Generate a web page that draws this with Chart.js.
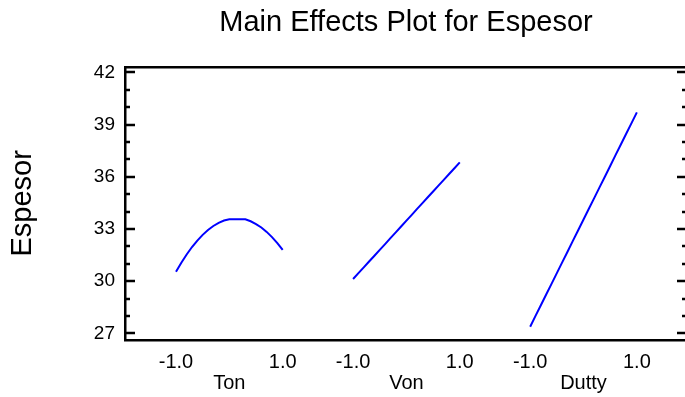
<!DOCTYPE html>
<html><head><meta charset="utf-8">
<script src="https://cdn.jsdelivr.net/npm/chart.js@4.4.1/dist/chart.umd.min.js"></script>
<style>html,body{margin:0;padding:0;overflow:hidden;background:#fff}#wrap{width:687px;height:397px}</style>
</head><body><div id="wrap"><canvas id="c" width="687" height="397"></canvas></div>
<script>
// ---- data ----
const factors = ['Ton', 'Von', 'Dutty'];
const levels = [-1.0, -0.9, -0.8, -0.7, -0.6, -0.5, -0.4, -0.3, -0.2, -0.1, 0.0, 0.1, 0.2, 0.3, 0.4, 0.5, 0.6, 0.7, 0.8, 0.9, 1.0];
const ton   = [30.54, 31.06, 31.53, 31.96, 32.33, 32.66, 32.94, 33.17, 33.35, 33.48, 33.55, 33.55, 33.55, 33.55, 33.44, 33.28, 33.08, 32.83, 32.53, 32.19, 31.79];
const von   = [30.12, 30.46, 30.79, 31.13, 31.46, 31.80, 32.13, 32.47, 32.80, 33.14, 33.48, 33.81, 34.15, 34.48, 34.82, 35.15, 35.49, 35.82, 36.16, 36.49, 36.83];
const dutty = [27.38, 28.00, 28.61, 29.23, 29.84, 30.46, 31.08, 31.69, 32.31, 32.92, 33.54, 34.16, 34.77, 35.39, 36.00, 36.62, 37.24, 37.85, 38.47, 39.08, 39.70];
const yTickValues = [27, 30, 33, 36, 39, 42];
const levelTickValues = [-1, 1];
const levelTickLabels = ['-1.0', '1.0'];

// ---- layout constants ----
const GAP = 3.32;          // horizontal distance between factor panels (x units)
const X_MIN = -0.956, X_MAX = 9.58;
const Y_MIN = 26.615, Y_MAX = 42.32;
const MINOR_STEP = 1;
const FONT = "'Liberation Sans', Arial, sans-serif";

const series = [ton, von, dutty];
const datasets = series.map((vals, k) => ({
  label: factors[k],
  data: levels.map((l, i) => ({ x: k * GAP + l + 1, y: vals[i] })),
  borderColor: '#0000ff',
  borderWidth: 2,
  pointRadius: 0,
  tension: 0,
  fill: false
}));

const levelPositions = [];
const levelLabels = [];
factors.forEach((f, k) => levelTickValues.forEach((l, j) => {
  levelPositions.push(k * GAP + l + 1);
  levelLabels.push(levelTickLabels[j]);
}));
const namePositions = factors.map((f, k) => k * GAP + 1);

const inwardTicks = {
  id: 'inwardTicks',
  afterDatasetsDraw(chart) {
    const { ctx, chartArea: a } = chart;
    const y = chart.scales.y;
    ctx.save();
    ctx.strokeStyle = '#000';
    ctx.lineWidth = 2.5;
    for (let v = Math.ceil(y.min); v <= Math.floor(y.max); v += MINOR_STEP) {
      const p = Math.round(y.getPixelForValue(v));
      const len = yTickValues.includes(v) ? 10 : 5;
      ctx.beginPath();
      ctx.moveTo(a.left, p); ctx.lineTo(a.left + len, p);
      ctx.moveTo(a.right - len, p); ctx.lineTo(a.right, p);
      ctx.stroke();
    }
    ctx.restore();
  }
};

const noGrid = { display: true, drawOnChartArea: false, drawTicks: false };
const blackBorder = { display: true, color: '#000', width: 2.5 };

new Chart(document.getElementById('c'), {
  type: 'line',
  data: { datasets },
  plugins: [inwardTicks],
  options: {
    responsive: false,
    animation: false,
    devicePixelRatio: 1,
    layout: { padding: 0 },
    plugins: {
      legend: { display: false },
      tooltip: { enabled: false },
      title: {
        display: true,
        text: 'Main Effects Plot for Espesor',
        fullSize: false,
        color: '#000',
        font: { family: FONT, size: 29, weight: 'normal' },
        padding: { top: 6, bottom: 26 }
      }
    },
    scales: {
      x: {
        type: 'linear', position: 'bottom', weight: 0,
        min: X_MIN, max: X_MAX,
        grid: noGrid, border: blackBorder,
        afterBuildTicks: s => { s.ticks = levelPositions.map(v => ({ value: v })); },
        afterFit: s => { s.height = 30; },
        ticks: {
          autoSkip: false, maxRotation: 0, padding: 10, color: '#000',
          font: { family: FONT, size: 20 },
          callback: (v, i) => levelLabels[i]
        }
      },
      xName: {
        type: 'linear', position: 'bottom', weight: 1,
        min: X_MIN, max: X_MAX,
        grid: { display: false, drawTicks: false }, border: { display: false },
        afterBuildTicks: s => { s.ticks = namePositions.map(v => ({ value: v })); },
        afterFit: s => { s.height = 27; },
        ticks: {
          autoSkip: false, maxRotation: 0, padding: 1.3, color: '#000',
          font: { family: FONT, size: 20 },
          callback: (v, i) => factors[i]
        }
      },
      xTop: {
        type: 'linear', position: 'top',
        min: X_MIN, max: X_MAX,
        grid: noGrid, border: blackBorder,
        ticks: { display: false },
        afterFit: s => { s.height = 0; }
      },
      y: {
        type: 'linear', position: 'left',
        min: Y_MIN, max: Y_MAX,
        grid: noGrid, border: blackBorder,
        afterBuildTicks: s => { s.ticks = yTickValues.map(v => ({ value: v })); },
        afterFit: s => { s.width = 125; },
        ticks: {
          padding: 10, color: '#000',
          font: { family: FONT, size: 19 },
          callback: v => String(v)
        },
        title: {
          display: true, text: 'Espesor', color: '#000',
          font: { family: FONT, size: 29 },
          padding: { top: 6, bottom: 0 }
        }
      },
      yRight: {
        type: 'linear', position: 'right',
        min: Y_MIN, max: Y_MAX,
        grid: noGrid, border: blackBorder,
        ticks: { display: false },
        afterFit: s => { s.width = 0; }
      }
    }
  }
});
</script>
</body></html>
